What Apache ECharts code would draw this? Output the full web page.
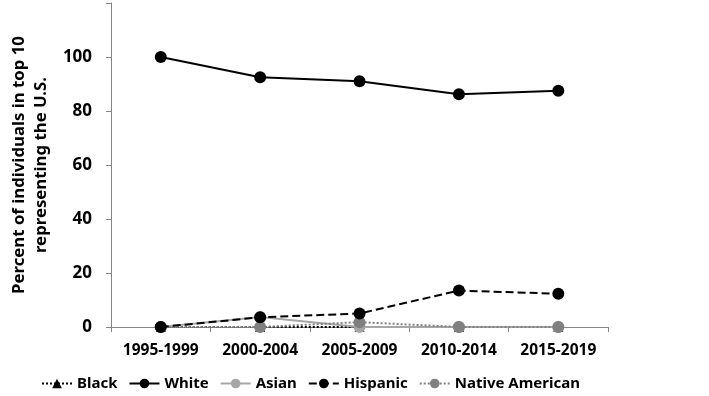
<!DOCTYPE html>
<html><head><meta charset="utf-8">
<script src="https://cdn.jsdelivr.net/npm/echarts@6/dist/echarts.min.js"></script>
<style>html,body{margin:0;padding:0;background:#fff}#c{width:709px;height:396px}</style>
</head><body><div id="c"></div>
<script>
const categories = ['1995-1999','2000-2004','2005-2009','2010-2014','2015-2019'];
const black = [0, 0, 0, 0, 0];
const white = [100, 92.5, 91, 86.2, 87.5];
const asian = [0, 3.7, 0, 0, 0];
const hispanic = [0, 3.6, 5.0, 13.5, 12.3];
const nativeAmerican = [0, 0, 1.8, 0, 0];
const yTicks = [0, 20, 40, 60, 80, 100];

const font = 'Noto Sans';
const chart = echarts.init(document.getElementById('c'));
function s(name, data, color, type, symbol, size, z) {
  return { name, type: 'line', data, symbol, symbolSize: size, z,
    lineStyle: { color, width: 2, type }, itemStyle: { color }, emphasis: { disabled: true } };
}
chart.setOption({
  animation: false,
  textStyle: { fontFamily: font },
  grid: { left: 106, right: 101, top: 3, bottom: 69 },
  xAxis: {
    type: 'category', data: categories, boundaryGap: true,
    axisLine: { lineStyle: { color: '#868686', width: 1 } },
    axisTick: { show: true, length: 5, lineStyle: { color: '#868686' } },
    axisLabel: { color: '#000', fontWeight: 'bold', fontSize: 15.5, margin: 16, fontFamily: font }
  },
  yAxis: {
    type: 'value', min: 0, max: 120, interval: 20,
    name: 'Percent of individuals in top 10\nrepresenting the U.S.',
    nameLocation: 'middle', nameGap: 56, nameRotate: 90,
    nameTextStyle: { color: '#000', fontWeight: 'bold', fontSize: 16.8, lineHeight: 22, fontFamily: font },
    axisLine: { show: true, lineStyle: { color: '#868686', width: 1 } },
    axisTick: { show: true, length: 5, lineStyle: { color: '#868686' } },
    splitLine: { show: false },
    axisLabel: { color: '#000', fontWeight: 'bold', fontSize: 17, margin: 19, fontFamily: font,
      formatter: v => yTicks.includes(v) ? String(v) : '' }
  },
  legend: {
    bottom: 0, left: 36, itemWidth: 30, itemHeight: 12, itemGap: 11,
    textStyle: { color: '#000', fontWeight: 'bold', fontSize: 15, fontFamily: font },
    data: ['Black','White','Asian','Hispanic','Native American']
  },
  series: [
    s('Black', black, '#000000', 'dotted', 'triangle', 10, 1),
    s('White', white, '#000000', 'solid', 'circle', 12, 5),
    s('Asian', asian, '#a6a6a6', 'solid', 'circle', 12, 2),
    s('Hispanic', hispanic, '#000000', 'dashed', 'circle', 12, 4),
    s('Native American', nativeAmerican, '#808080', 'dotted', 'circle', 12, 3)
  ]
});
</script></body></html>
